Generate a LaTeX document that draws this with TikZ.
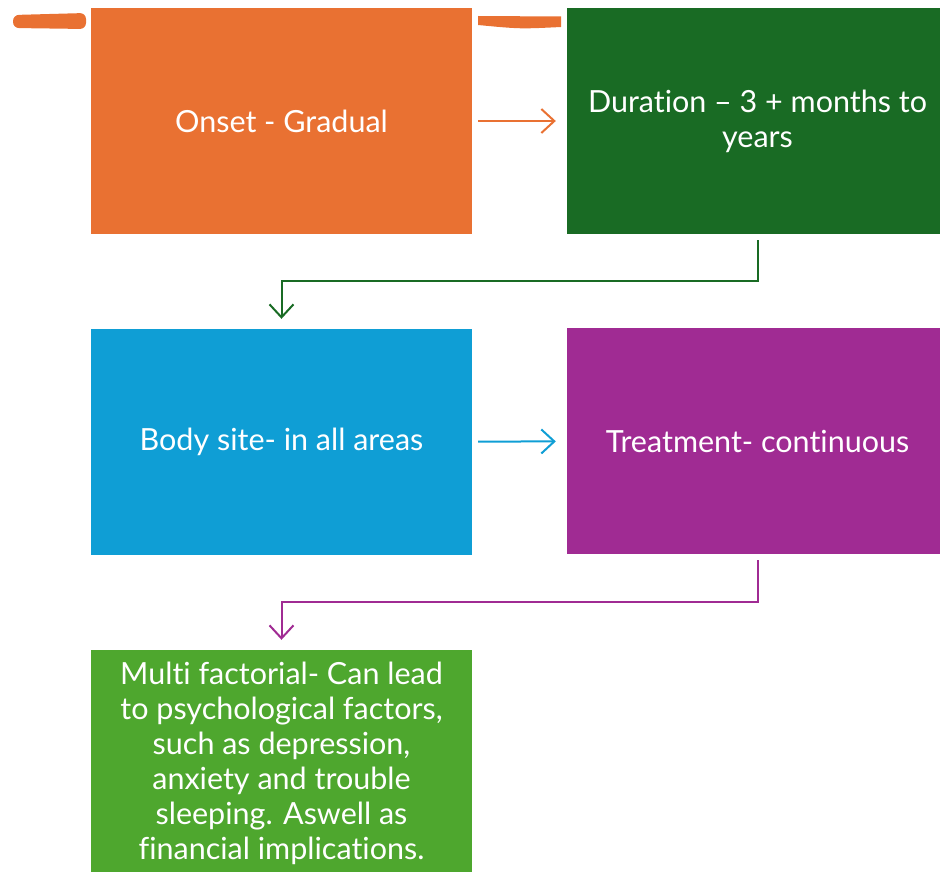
\documentclass[tikz,border=0pt]{standalone}
\usepackage{fontspec}
\setmainfont[Ligatures=NoCommon]{Lato}
\usetikzlibrary{arrows.meta}
\definecolor{PainOrange}{HTML}{E97132}
\definecolor{PainDarkGreen}{HTML}{196B24}
\definecolor{PainBlue}{HTML}{0F9ED5}
\definecolor{PainPurple}{HTML}{A02B93}
\definecolor{PainGreen}{HTML}{4EA72E}

\begin{document}
\begin{tikzpicture}[x=1pt,y=-1pt,font=\fontsize{30.5pt}{35pt}\selectfont,
        bx/.style={fill=#1,text=white,minimum width=381pt,minimum height=226pt,inner sep=0pt,align=center},
        ar/.style={-{Straight Barb[length=13pt,width=24pt,line width=2pt]},line width=2pt,color=#1}]
        \clip (0,0) rectangle (940,872);
        \node[bx=PainOrange] (onset) at (281.5,121) {Onset - Gradual};
        \node[bx=PainDarkGreen] (dur) at (757.5,121) {Duration -- 3 + months to\\years};
        \node[bx=PainBlue] (site) at (281.5,442) {Body site- in all areas};
        \node[bx=PainPurple] (treat) at (757.5,441) {Treatment- continuous};
        \node[bx=PainGreen] (multi) at (281.5,763) {Multi factorial- Can lead\\to psychological factors,\\such as depression,\\anxiety and trouble\\sleeping. Aswell as\\financial implications.};
        % stray strokes at the top
        \fill[PainOrange,rounded corners=6pt] (86,13) -- (13,15) -- (13,28) -- (86,29) -- cycle;
        \fill[PainOrange] (478,16) -- (561,16.5) -- (561,27) .. controls (520,29) .. (478,25) -- cycle;
        \draw[ar=PainOrange,shorten <=6pt,shorten >=11pt] (onset) -- (dur);
        \draw[ar=PainBlue,shorten <=6pt,shorten >=11pt] (site) -- (treat);
        \draw[ar=PainDarkGreen,shorten <=6pt,shorten >=10pt] (dur.south) -- ++(0,47) -| (site.north);
        \draw[ar=PainPurple,shorten <=6pt,shorten >=10pt] (treat.south) -- ++(0,48) -| (multi.north);
      \end{tikzpicture}
\end{document}
